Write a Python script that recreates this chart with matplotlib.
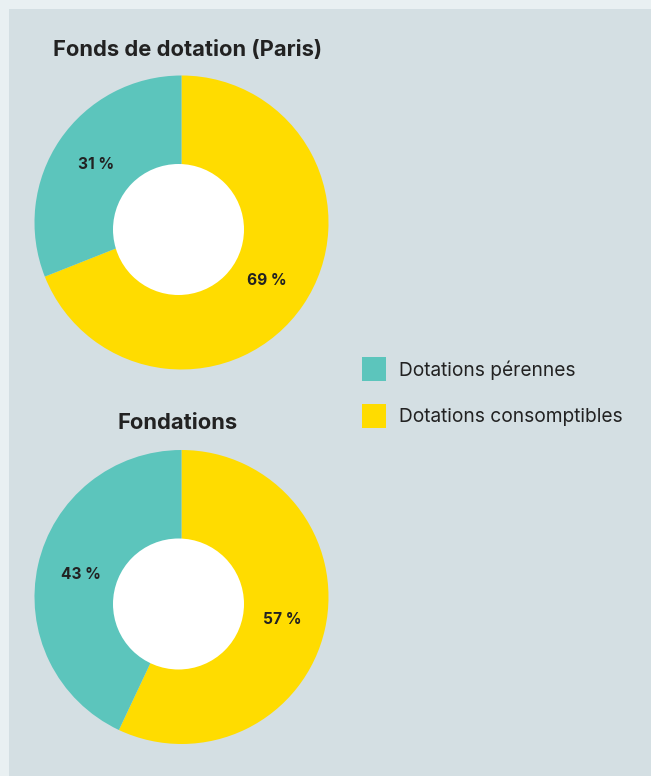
import matplotlib
matplotlib.use("Agg")
import matplotlib.pyplot as plt
from matplotlib.patches import Rectangle, Circle

plt.rcParams['font.family'] = ['Inter', 'DejaVu Sans']

# Répartition des dotations (%)
categories = ["Dotations pérennes", "Dotations consomptibles"]
titres = ["Fonds de dotation (Paris)", "Fondations"]
paris = [31, 69]
fondations = [43, 57]
colors = {"Dotations pérennes": "#5cc5bc", "Dotations consomptibles": "#ffdc00"}

W, H = 651, 776
fig = plt.figure(figsize=(W / 100, H / 100), dpi=100)
fig.patch.set_facecolor("#e9f0f2")
fig.add_artist(Rectangle((9 / W, 0), 1, 1 - 9 / H, transform=fig.transFigure,
                         facecolor="#d4dfe3", edgecolor="none", zorder=0))

R, r_in = 147, 65.5
centers = [(181.5, 222.5), (181.5, 597)]
title_pos = [(188, 50), (178, 423)]

for vals, titre, (cx, cy), (tx, ty) in zip([paris, fondations], titres, centers, title_pos):
    ax = fig.add_axes([(cx - R) / W, (H - cy - R) / H, 2 * R / W, 2 * R / H])
    # jaune d'abord, dans le sens horaire depuis midi
    order = [1, 0]
    wedges, texts, autotexts = ax.pie(
        [vals[i] for i in order],
        colors=[colors[categories[i]] for i in order],
        startangle=90, counterclock=False, radius=1,
        wedgeprops=dict(edgecolor="none"),
        autopct=lambda p: f"{p:.0f} %", pctdistance=0.7,
        textprops=dict(fontsize=11.2, fontweight="bold", color="#222222"))
    # trou central blanc, légèrement décalé vers le bas à gauche
    ax.add_patch(Circle((-3 / R, -7 / R), r_in / R, facecolor="white", edgecolor="none"))
    ax.set_xlim(-1, 1)
    ax.set_ylim(-1, 1)
    ax.set_axis_off()
    fig.text(tx / W, 1 - ty / H, titre, ha="center", va="center",
             fontsize=15.8, fontweight="bold", color="#222222")

# légende
for i, cat in enumerate(categories):
    y = 357 + i * 47
    fig.add_artist(Rectangle((362 / W, 1 - (y + 24) / H), 24 / W, 24 / H,
                             transform=fig.transFigure, facecolor=colors[cat],
                             edgecolor="none"))
    fig.text(399 / W, 1 - (y + 13) / H, cat, ha="left", va="center",
             fontsize=13.8, color="#222222")

fig.savefig("out.png", dpi=100, facecolor=fig.get_facecolor())
